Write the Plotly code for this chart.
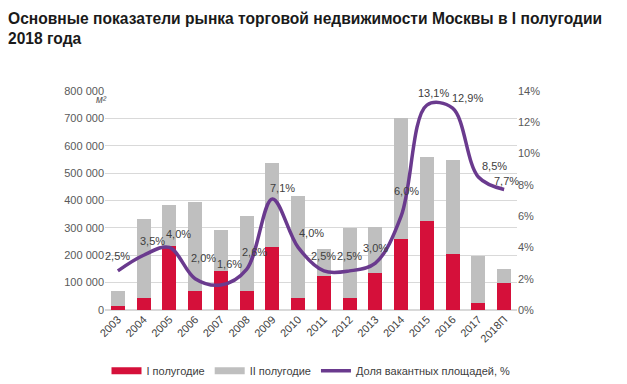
import plotly.graph_objects as go

years = ["2003", "2004", "2005", "2006", "2007", "2008", "2009", "2010",
         "2011", "2012", "2013", "2014", "2015", "2016", "2017", "2018П"]
first_half = [15000, 44000, 233000, 70000, 143000, 70000, 231000, 45000,
              125000, 45000, 134000, 258000, 324000, 203000, 24000, 97000]
total = [69000, 332000, 383000, 395000, 292000, 343000, 538000, 416000,
         222000, 298000, 304000, 702000, 560000, 547000, 198000, 150000]
second_half = [t - f for t, f in zip(total, first_half)]
vacancy = [2.5, 3.5, 4.0, 2.0, 1.6, 2.6, 7.1, 4.0, 2.5, 2.5, 3.0, 6.0, 13.1, 12.9, 8.5, 7.7]
vacancy_labels = [f"{v:.1f}%".replace(".", ",") for v in vacancy]

# label offsets in pixels (layout only)
label_dx = [0, 9, 9, 8, 9, 8, 10, 13, 0, 0, 0, 5, 7, 15, 16, 2]
label_dy = [15, 14, 13, 21, 21, 17, 11, 14, 15, 15, 15, 25, 12, 10, 11, 9]

RED = "#D5103A"
GRAY = "#BFBFBF"
PURPLE = "#6A3A8E"
FONT = "Liberation Sans, Arial, sans-serif"

fig = go.Figure()
fig.add_trace(go.Bar(x=years, y=first_half, name="I полугодие", marker_color=RED,
                     marker_line_width=0, showlegend=False))
fig.add_trace(go.Bar(x=years, y=second_half, name="II полугодие", marker_color=GRAY,
                     marker_line_width=0, showlegend=False))
fig.add_trace(go.Scatter(x=years, y=vacancy, name="Доля вакантных площадей, %",
                         mode="lines", yaxis="y2", showlegend=False,
                         line=dict(color=PURPLE, width=3.5, shape="spline", smoothing=1.0)))
# legend entries (wide swatches like the original)
fig.add_trace(go.Scatter(x=[None], y=[None], mode="lines", name="I полугодие",
                         line=dict(color=RED, width=7)))
fig.add_trace(go.Scatter(x=[None], y=[None], mode="lines", name="II полугодие",
                         line=dict(color=GRAY, width=7)))
fig.add_trace(go.Scatter(x=[None], y=[None], mode="lines", name="Доля вакантных площадей, %",
                         yaxis="y2", line=dict(color=PURPLE, width=3.5)))

for i, (v, lab, dx, dy) in enumerate(zip(vacancy, vacancy_labels, label_dx, label_dy)):
    fig.add_annotation(x=i, y=v, xref="x", yref="y2", text=lab, showarrow=False,
                       xshift=dx, yshift=dy, font=dict(size=11, color="#404040", family=FONT))

fig.update_layout(
    width=619, height=376,
    margin=dict(l=97, r=110, t=83, b=74, autoexpand=False),
    paper_bgcolor="white", plot_bgcolor="white",
    barmode="stack", bargap=0.46,
    separators=", ",
    font=dict(family=FONT, size=11, color="#595959"),
    title=dict(text="<b>Основные показатели рынка торговой недвижимости Москвы в I полугодии<br>2018 года</b>",
               x=0.0, xanchor="left", y=0.958, yanchor="top",
               font=dict(size=15.6, color="#1a1a1a", family=FONT)),
    xaxis=dict(type="category", range=[-0.5, 15.5], tickangle=-45, showgrid=False,
               showline=False, ticks="", tickfont=dict(size=11, color="#404040"),
               automargin=False),
    yaxis=dict(range=[0, 800000], dtick=100000, tickformat=",d", showgrid=True,
               gridcolor="#D9D9D9", gridwidth=1, zeroline=True, zerolinecolor="#D9D9D9",
               ticks="", tickfont=dict(size=11, color="#595959"), automargin=False),
    yaxis2=dict(range=[0, 14], dtick=2, ticksuffix="%", overlaying="y", side="right",
                showgrid=False, zeroline=False, ticks="",
                tickfont=dict(size=11, color="#595959"), automargin=False),
    legend=dict(orientation="h", x=0.5, xanchor="center", yref="container",
                y=0.035, yanchor="middle",
                font=dict(size=11, color="#404040"), traceorder="normal",
                itemwidth=30),
    showlegend=True,
)
fig.add_annotation(text="<i>м²</i>", xref="paper", yref="paper", x=-0.008, y=0.962,
                   xanchor="center", yanchor="middle", showarrow=False,
                   font=dict(size=10, color="#595959", family=FONT))

fig.write_html("out.html")
